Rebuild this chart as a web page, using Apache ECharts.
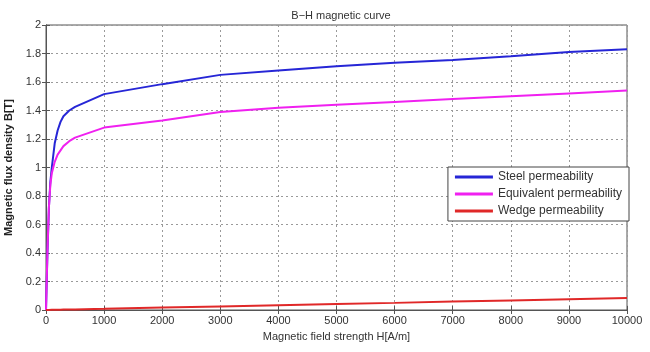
<!DOCTYPE html>
<html>
<head>
<meta charset="UTF-8">
<title>B-H magnetic curve</title>
<script src="https://cdn.jsdelivr.net/npm/echarts@6/dist/echarts.min.js"></script>
<style>
  html, body { margin: 0; padding: 0; background: #fff; }
</style>
</head>
<body>
<div id="main" style="width:650px;height:352px;"></div>
<script>
// field strength H [A/m]
var hValues = [0, 25, 50, 75, 100, 150, 200, 250, 300, 400, 500, 1000, 2000,
  3000, 4000, 5000, 6000, 7000, 8000, 9000, 10000];
// flux density B [T]
var steelB = [0, 0.40, 0.72, 0.90, 1.00, 1.17, 1.26, 1.32, 1.36, 1.40, 1.425, 1.515, 1.585,
  1.65, 1.68, 1.71, 1.735, 1.755, 1.78, 1.81, 1.83];
var equivB = [0, 0.42, 0.72, 0.88, 0.96, 1.04, 1.09, 1.12, 1.15, 1.185, 1.21, 1.28, 1.33,
  1.39, 1.42, 1.44, 1.46, 1.48, 1.50, 1.52, 1.54];
var wedgeB = [0, 0, 0, 0.001, 0.001, 0.001, 0.002, 0.002, 0.003, 0.003, 0.004, 0.008, 0.017,
  0.025, 0.034, 0.042, 0.050, 0.059, 0.067, 0.076, 0.084];
var seriesNames = ['Steel permeability', 'Equivalent permeability', 'Wedge permeability'];
var seriesColors = ['#2626d6', '#f020f0', '#e02828'];

function pairs(ys) {
  return hValues.map(function (h, i) { return [h, ys[i]]; });
}

var myChart = echarts.init(document.getElementById('main'));
var font = 'Liberation Sans, Arial, sans-serif';
var gridLine = { show: true, lineStyle: { color: '#9a9a9a', type: [2, 3], width: 1 } };
var tick = { inside: true, length: 4, lineStyle: { color: '#555' } };

var option = {
  animation: false,
  textStyle: { fontFamily: font },
  title: {
    text: 'B\u2212H magnetic curve',
    left: 336, top: 5, textAlign: 'center',
    textStyle: { fontSize: 11, fontWeight: 'normal', color: '#333' }
  },
  legend: {
    orient: 'vertical',
    right: 21, top: 167,
    padding: [4, 7, 4, 7],
    itemGap: 5,
    itemWidth: 38, itemHeight: 3,
    icon: 'rect',
    backgroundColor: '#fff',
    borderColor: '#444', borderWidth: 1,
    textStyle: { fontSize: 12, color: '#333', fontFamily: font },
    data: seriesNames
  },
  grid: {
    left: 46, right: 23, top: 25, bottom: 42,
    outerBoundsMode: 'none',
    containLabel: false,
    show: true, borderColor: '#555', borderWidth: 1
  },
  xAxis: [{
    type: 'value', min: 0, max: 10000, interval: 1000,
    name: 'Magnetic field strength H[A/m]',
    nameLocation: 'middle', nameGap: 21,
    nameTextStyle: { fontSize: 11, color: '#333' },
    axisLine: { lineStyle: { color: '#555' } },
    axisTick: tick,
    axisLabel: { fontSize: 11, color: '#333', margin: 5, formatter: function (v) { return String(v); } },
    splitLine: gridLine
  }, {
    type: 'value', position: 'top', min: 0, max: 10000, interval: 1000,
    axisLine: { lineStyle: { color: '#555' } },
    axisTick: tick,
    axisLabel: { show: false }, splitLine: { show: false }
  }],
  yAxis: [{
    type: 'value', min: 0, max: 2, interval: 0.2,
    name: 'Magnetic flux density B[T]',
    nameLocation: 'middle', nameGap: 27,
    nameTextStyle: { fontSize: 11, color: '#222', fontWeight: 'bold' },
    axisLine: { lineStyle: { color: '#555' } },
    axisTick: tick,
    axisLabel: { fontSize: 11, color: '#333', margin: 5 },
    splitLine: gridLine
  }, {
    type: 'value', position: 'right', min: 0, max: 2, interval: 0.2,
    axisLine: { lineStyle: { color: '#555' } },
    axisTick: tick,
    axisLabel: { show: false }, splitLine: { show: false }
  }],
  series: [steelB, equivB, wedgeB].map(function (ys, i) {
    return {
      name: seriesNames[i],
      type: 'line',
      showSymbol: false,
      color: seriesColors[i],
      lineStyle: { width: 2, color: seriesColors[i] },
      data: pairs(ys)
    };
  })
};

myChart.setOption(option);
</script>
</body>
</html>
